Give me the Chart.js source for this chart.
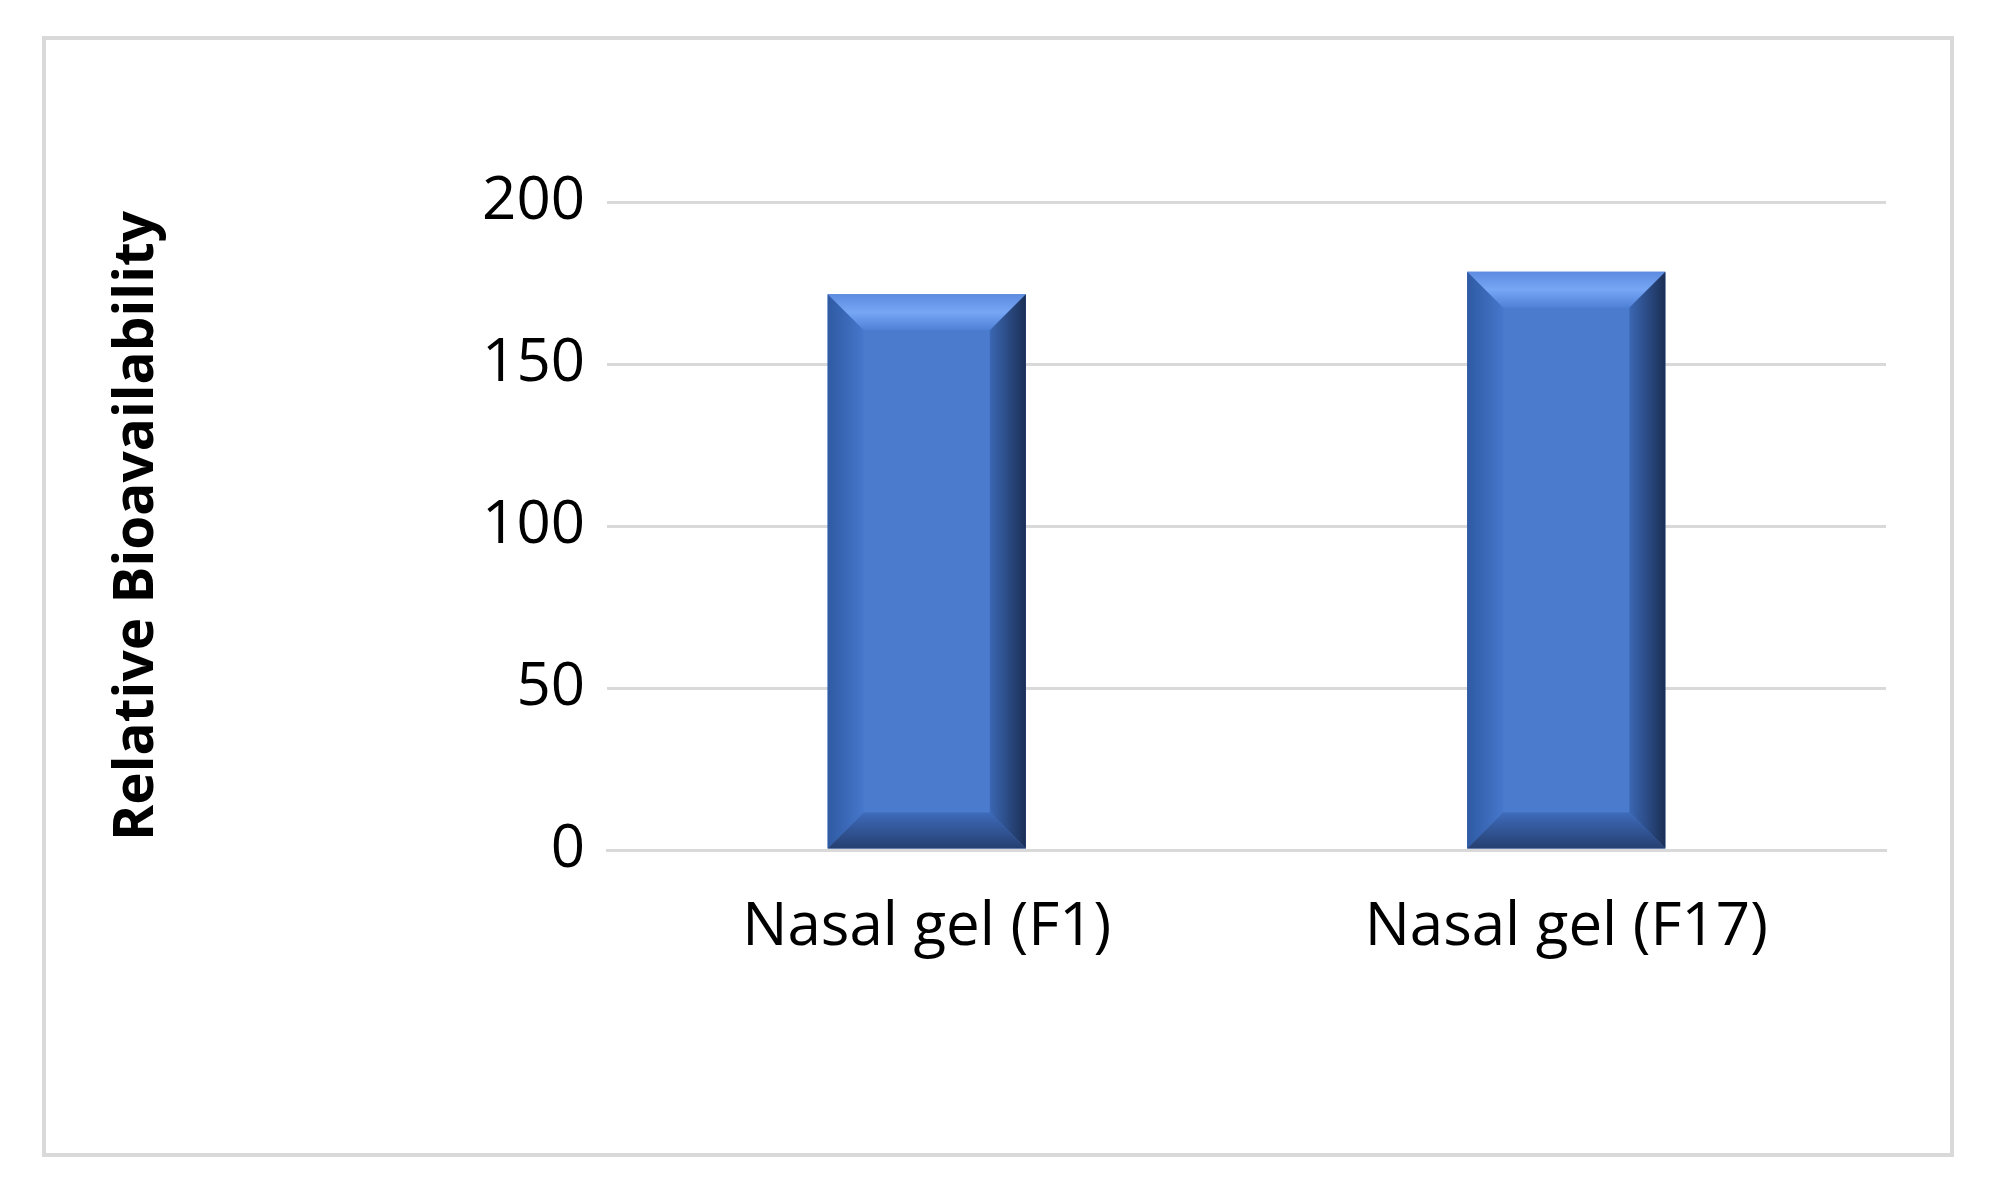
<!DOCTYPE html>
<html><head><meta charset="utf-8">
<script src="https://cdn.jsdelivr.net/npm/chart.js@4"></script>
<style>
html,body{margin:0;padding:0;background:#fff;}
#frame{position:absolute;left:42px;top:36px;width:1904px;height:1113px;border:4px solid #d9d9d9;}
#wrap{position:absolute;left:0;top:0;width:1990px;height:1196px;}
</style></head><body>
<div id="frame"></div>
<div id="wrap"><canvas id="c" width="1990" height="1196"></canvas></div>
<script>
const categories = ["Nasal gel (F1)", "Nasal gel (F17)"];
const values = [171.5, 178.5];
const yTicks = [0, 50, 100, 150, 200];

const bevel = {
  id: 'bevel',
  afterDatasetsDraw(chart) {
    const ctx = chart.ctx;
    chart.getDatasetMeta(0).data.forEach(b => {
      const l = b.x - b.width/2, r = b.x + b.width/2, t = b.y, btm = b.base, e = 36;
      ctx.save();
      const poly = (pts, fill) => { ctx.beginPath(); ctx.moveTo(pts[0][0], pts[0][1]); pts.slice(1).forEach(p => ctx.lineTo(p[0], p[1])); ctx.closePath(); ctx.fillStyle = fill; ctx.fill(); };
      const gt = ctx.createLinearGradient(0, t, 0, t + e); gt.addColorStop(0, '#5c8be0'); gt.addColorStop(0.5, '#77a6f5'); gt.addColorStop(1, '#4e80d6');
      poly([[l,t],[r,t],[r-e,t+e],[l+e,t+e]], gt);
      const gl = ctx.createLinearGradient(l, 0, l + e, 0); gl.addColorStop(0, '#2f5aa3'); gl.addColorStop(1, '#4677cb');
      poly([[l,t],[l+e,t+e],[l+e,btm-e],[l,btm]], gl);
      const gr = ctx.createLinearGradient(r - e, 0, r, 0); gr.addColorStop(0, '#3b67b3'); gr.addColorStop(1, '#1b2f55');
      poly([[r,t],[r,btm],[r-e,btm-e],[r-e,t+e]], gr);
      const gb = ctx.createLinearGradient(0, btm - e, 0, btm); gb.addColorStop(0, '#3e6bbb'); gb.addColorStop(1, '#253f70');
      poly([[l,btm],[l+e,btm-e],[r-e,btm-e],[r,btm]], gb);
      ctx.restore();
    });
  }
};

new Chart(document.getElementById('c'), {
  type: 'bar',
  data: { labels: categories, datasets: [{ data: values, backgroundColor: '#4a7bcd', categoryPercentage: 1, barPercentage: 0.31 }] },
  options: {
    responsive: false, animation: false, devicePixelRatio: 1,
    layout: { padding: { top: 202, right: 104, left: 0, bottom: 0 } },
    plugins: { legend: { display: false }, tooltip: { enabled: false } },
    scales: {
      x: {
        grid: { display: false }, border: { display: true, color: '#d9d9d9', width: 3 },
        ticks: { font: { family: 'Open Sans', size: 60 }, color: '#000', padding: 34 },
        afterFit(s) { s.height = 346; }
      },
      y: {
        min: 0, max: 200,
        afterBuildTicks(s) { s.ticks = yTicks.map(v => ({ value: v })); },
        grid: { color: '#d9d9d9', lineWidth: 3, drawTicks: false },
        border: { display: false },
        ticks: { font: { family: 'Open Sans', size: 60 }, color: '#000', padding: 22 },
        title: { display: true, text: 'Relative Bioavailability', font: { family: 'Open Sans', size: 55, weight: 'bold' }, color: '#000', padding: { top: 104, bottom: 0 } },
        afterFit(s) { s.width = 607; }
      }
    }
  },
  plugins: [bevel]
});
</script>
</body></html>
